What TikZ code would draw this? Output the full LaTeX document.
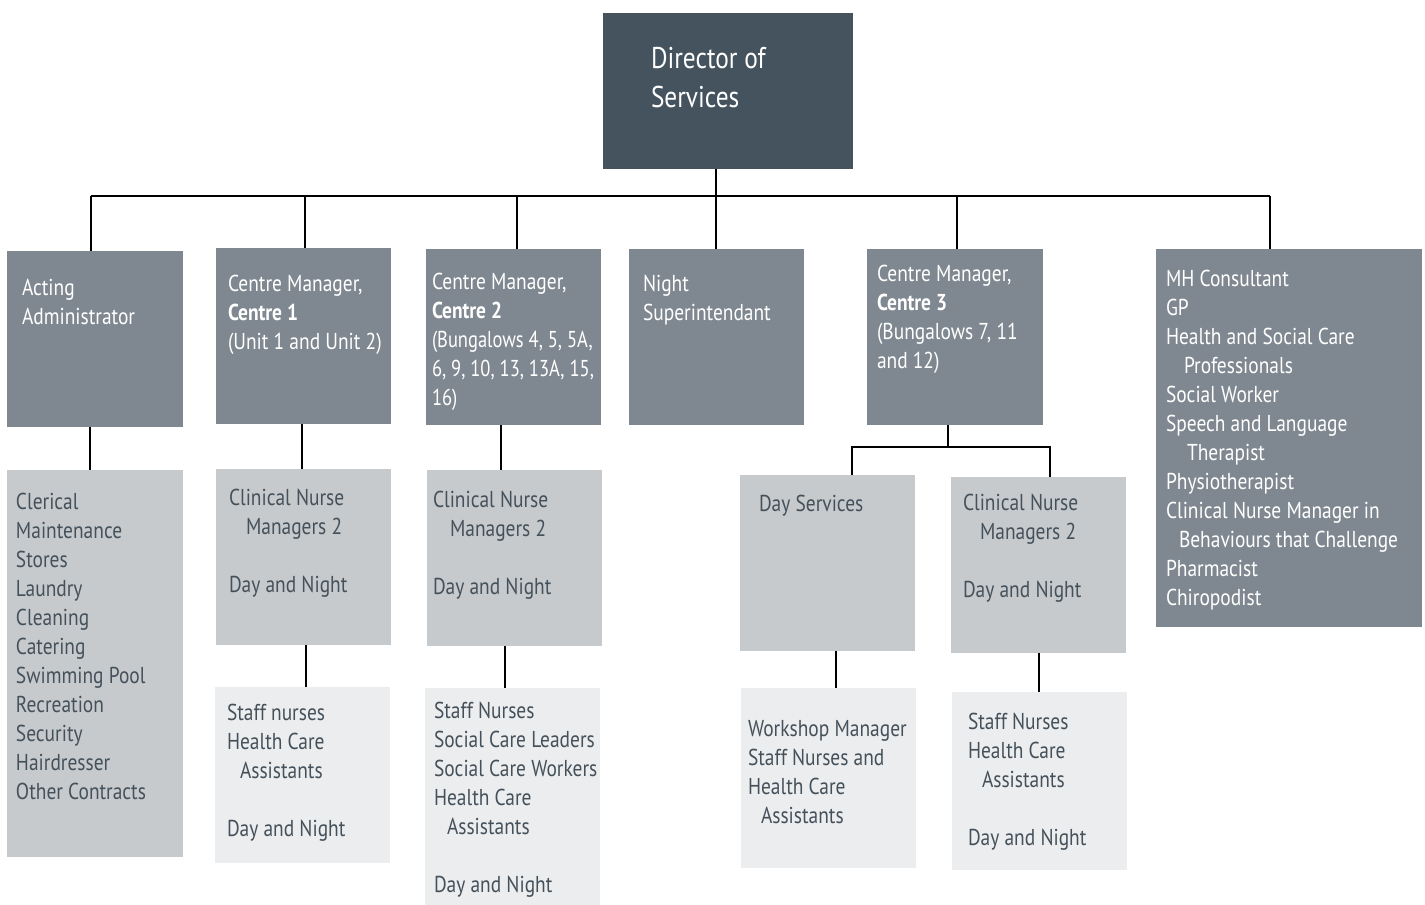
\documentclass[tikz,border=0pt]{standalone}
\usepackage{fontspec}
\setmainfont{PT Sans}[FakeStretch=0.845]
\newfontfamily\narrowsans{PT Sans}[FakeStretch=0.805]
\definecolor{cdir}{HTML}{44535E}
\definecolor{cmid}{HTML}{7F8890}
\definecolor{clight}{HTML}{C6CACD}
\definecolor{cpale}{HTML}{ECEDEF}
\definecolor{ctxt}{HTML}{45515A}
\begin{document}
\begin{tikzpicture}[x=1pt,y=-1pt,
  boxbase/.style={draw=none, inner sep=0, outer sep=0, anchor=north west},
  dirbox/.style={boxbase, fill=cdir},
  midbox/.style={boxbase, fill=cmid},
  lightbox/.style={boxbase, fill=clight},
  palebox/.style={boxbase, fill=cpale},
  txtbase/.style={anchor=north west, inner sep=0, outer sep=0, align=left, font=\fontsize{23}{29}\selectfont},
  wtxt/.style={txtbase, text=white},
  dtxt/.style={txtbase, text=ctxt},
  conn/.style={draw=black, line width=2pt}]
\useasboundingbox (0,0) rectangle (1425,905);

% boxes
\node[dirbox, minimum width=250pt, minimum height=156pt] (dir) at (603,13) {};
\node[midbox, minimum width=176pt, minimum height=176pt] (aa) at (7,251) {};
\node[midbox, minimum width=175pt, minimum height=176pt] (c1) at (216,248) {};
\node[midbox, minimum width=175pt, minimum height=176pt] (c2) at (426,249) {};
\node[midbox, minimum width=175pt, minimum height=176pt] (ns) at (629,249) {};
\node[midbox, minimum width=176pt, minimum height=176pt] (c3) at (867,249) {};
\node[midbox, minimum width=266pt, minimum height=378pt] (mh) at (1156,249) {};

\node[lightbox, minimum width=176pt, minimum height=387pt] (cl) at (7,470) {};
\node[lightbox, minimum width=175pt, minimum height=176pt] (n1) at (216,469) {};
\node[lightbox, minimum width=175pt, minimum height=176pt] (n2) at (427,470) {};
\node[lightbox, minimum width=175pt, minimum height=176pt] (ds) at (740,475) {};
\node[lightbox, minimum width=175pt, minimum height=176pt] (n3) at (951,477) {};

\node[palebox, minimum width=175pt, minimum height=176pt] (s1) at (215,687) {};
\node[palebox, minimum width=175pt, minimum height=217pt] (s2) at (425,688) {};
\node[palebox, minimum width=175pt, minimum height=180pt] (ws) at (741,688) {};
\node[palebox, minimum width=175pt, minimum height=178pt] (s3) at (952,692) {};

% texts
\node[wtxt, font=\fontsize{30}{39}\selectfont] (dirt) at (651,47) {Director of\\Services};
\node[wtxt] (aat) at (22,279) {Acting\\Administrator};
\node[wtxt] (c1t) at (228,275) {Centre Manager,\\\textbf{Centre 1}\\(Unit 1 and Unit 2)};
\node[wtxt] (c2t) at (432,273) {Centre Manager,\\\textbf{Centre 2}\\{\narrowsans(Bungalows 4, 5, 5A,}\\{\narrowsans 6, 9, 10, 13, 13A, 15,}\\{\narrowsans 16)}};
\node[wtxt] (nst) at (643,275) {Night\\Superintendant};
\node[wtxt] (c3t) at (877,265) {Centre Manager,\\\textbf{Centre 3}\\(Bungalows 7, 11\\and 12)};
\node[wtxt] (mht) at (1166,270) {MH Consultant\\GP\\Health and Social Care\\\hspace*{18pt}Professionals\\Social Worker\\Speech and Language\\\hspace*{21pt}Therapist\\Physiotherapist\\Clinical Nurse Manager in\\\hspace*{13pt}Behaviours that Challenge\\Pharmacist\\Chiropodist};

\node[dtxt] (clt) at (16,493) {Clerical\\Maintenance\\Stores\\Laundry\\Cleaning\\Catering\\Swimming Pool\\Recreation\\Security\\Hairdresser\\Other Contracts};
\node[dtxt] (n1t) at (229,489) {Clinical Nurse\\\hspace*{17pt}Managers 2\\[29pt]Day and Night};
\node[dtxt] (n2t) at (433,491) {Clinical Nurse\\\hspace*{17pt}Managers 2\\[29pt]Day and Night};
\node[dtxt] (dst) at (759,495) {Day Services};
\node[dtxt] (n3t) at (963,494) {Clinical Nurse\\\hspace*{17pt}Managers 2\\[29pt]Day and Night};

\node[dtxt] (s1t) at (227,704) {Staff nurses\\Health Care\\\hspace*{13pt}Assistants\\[29pt]Day and Night};
\node[dtxt] (s2t) at (434,702) {Staff Nurses\\Social Care Leaders\\Social Care Workers\\Health Care\\\hspace*{13pt}Assistants\\[29pt]Day and Night};
\node[dtxt] (wst) at (748,720) {Workshop Manager\\Staff Nurses and\\Health Care\\\hspace*{13pt}Assistants};
\node[dtxt] (s3t) at (968,713) {Staff Nurses\\Health Care\\\hspace*{14pt}Assistants\\[29pt]Day and Night};

% connectors
\coordinate (bL) at (91,196);
\coordinate (bR) at (1270,196);
\coordinate (bD) at (716,196);
\coordinate (b1) at (305,196);
\coordinate (b2) at (517,196);
\coordinate (b3) at (957,196);
\draw[conn] (bL) -- (bR);
\draw[conn] (bD |- dir.south) -- (bD |- ns.north);
\draw[conn] (bL) -- (bL |- aa.north);
\draw[conn] (b1) -- (b1 |- c1.north);
\draw[conn] (b2) -- (b2 |- c2.north);
\draw[conn] (b3) -- (b3 |- c3.north);
\draw[conn] (bR) -- (bR |- mh.north);

\coordinate (x0) at (90,0);
\coordinate (x1) at (302,0);
\coordinate (x2) at (501,0);
\draw[conn] (x0 |- aa.south) -- (x0 |- cl.north);
\draw[conn] (x1 |- c1.south) -- (x1 |- n1.north);
\draw[conn] (x2 |- c2.south) -- (x2 |- n2.north);

\coordinate (c3b) at (948,447);
\coordinate (dsb) at (852,447);
\coordinate (n3b) at (1050,447);
\draw[conn] (c3b |- c3.south) -- (c3b);
\draw[conn] (dsb |- ds.north) -- (dsb) -- (n3b) -- (n3b |- n3.north);

\coordinate (y1) at (306,0);
\coordinate (y2) at (505,0);
\coordinate (y3) at (836,0);
\coordinate (y4) at (1039,0);
\draw[conn] (y1 |- n1.south) -- (y1 |- s1.north);
\draw[conn] (y2 |- n2.south) -- (y2 |- s2.north);
\draw[conn] (y3 |- ds.south) -- (y3 |- ws.north);
\draw[conn] (y4 |- n3.south) -- (y4 |- s3.north);
\end{tikzpicture}
\end{document}
